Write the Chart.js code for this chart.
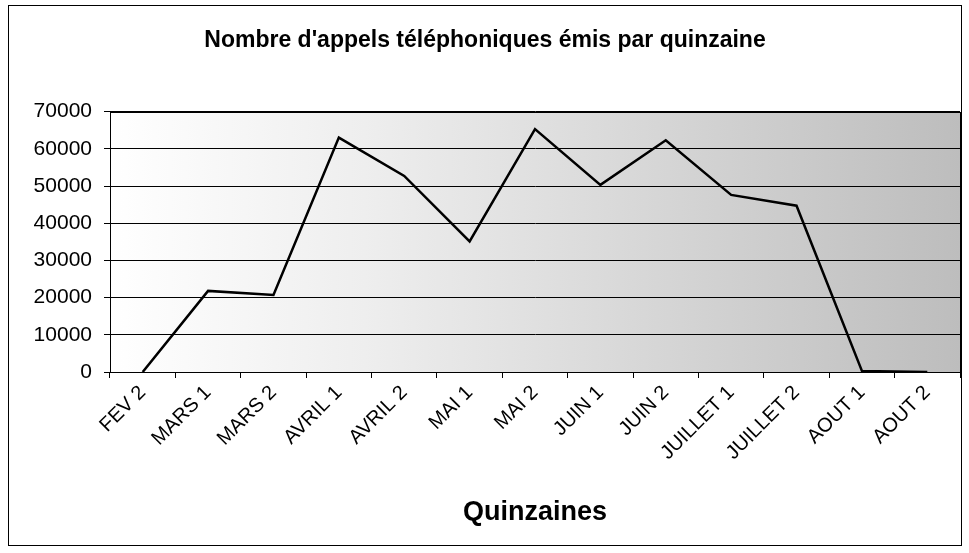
<!DOCTYPE html>
<html>
<head>
<meta charset="utf-8">
<script src="https://cdn.jsdelivr.net/npm/chart.js@4/dist/chart.umd.min.js"></script>
<style>
  html, body { margin: 0; padding: 0; background: #fff; }
  #wrap { width: 969px; height: 553px; }
</style>
</head>
<body>
<div id="wrap"><canvas id="appels" width="969" height="553"></canvas></div>
<script>
// Appels émis par quinzaine
var quinzaines = ['FEV 2', 'MARS 1', 'MARS 2', 'AVRIL 1', 'AVRIL 2', 'MAI 1', 'MAI 2',
  'JUIN 1', 'JUIN 2', 'JUILLET 1', 'JUILLET 2', 'AOUT 1', 'AOUT 2'];
var appels = [0, 21800, 20700, 63000, 52700, 35100, 65300, 50300, 62300, 47600, 44700, 300, 0];
var yTicks = [0, 10000, 20000, 30000, 40000, 50000, 60000, 70000];

var FONT = "'Liberation Sans', Arial, sans-serif";

// fond du cadre + dégradé de la zone de tracé
var decor = {
  id: 'decor',
  beforeDraw: function (chart) {
    var c = chart.ctx, a = chart.chartArea;
    c.save();
    c.fillStyle = '#fff';
    c.fillRect(0, 0, chart.width, chart.height);
    var g = c.createLinearGradient(a.left, 0, a.right, 0);
    g.addColorStop(0, '#ffffff');
    g.addColorStop(0.3, '#eeeeee');
    g.addColorStop(1, '#bdbdbd');
    c.fillStyle = g;
    c.fillRect(a.left, a.top, a.right - a.left, a.bottom - a.top);
    c.strokeStyle = '#000';
    c.lineWidth = 1;
    c.strokeRect(8.5, 5.5, 953, 540);
    c.restore();
  },
  beforeDatasetsDraw: function (chart) {
    var c = chart.ctx, a = chart.chartArea;
    c.save();
    c.strokeStyle = '#000';
    c.lineWidth = 1;
    c.strokeRect(Math.round(a.left) + 0.5, Math.round(a.top) + 0.5,
      Math.round(a.right - a.left), Math.round(a.bottom - a.top));
    c.restore();
  }
};

new Chart(document.getElementById('appels').getContext('2d'), {
  type: 'line',
  data: {
    labels: quinzaines,
    datasets: [{
      label: 'Appels',
      data: appels,
      borderColor: '#000',
      borderWidth: 2.5,
      pointRadius: 0,
      tension: 0,
      fill: false
    }]
  },
  options: {
    responsive: false,
    animation: false,
    layout: { padding: { left: 10, right: 9, top: 10, bottom: 10 } },
    plugins: {
      legend: { display: false },
      tooltip: { enabled: false },
      title: {
        display: true,
        text: "Nombre d'appels téléphoniques émis par quinzaine",
        color: '#000',
        font: { family: FONT, size: 23, weight: 'bold' },
        padding: { top: 17, bottom: 57 }
      }
    },
    scales: {
      x: {
        offset: true,
        grid: { offset: true, drawOnChartArea: false, drawTicks: true, tickLength: 6, color: '#000' },
        border: { color: '#000', width: 1 },
        ticks: {
          color: '#000',
          font: { family: FONT, size: 20 },
          minRotation: 45,
          maxRotation: 45,
          padding: 3,
          autoSkip: false
        },
        title: {
          display: true,
          text: 'Quinzaines',
          color: '#000',
          font: { family: FONT, size: 27, weight: 'bold' },
          padding: { top: 0, bottom: 14 }
        },
        afterFit: function (s) { s.height = 553 - 10 - 372; }
      },
      y: {
        min: 0,
        max: 70000,
        afterBuildTicks: function (s) { s.ticks = yTicks.map(function (v) { return { value: v }; }); },
        grid: { color: '#000', lineWidth: 1, tickLength: 6 },
        border: { color: '#000', width: 1 },
        ticks: {
          color: '#000',
          font: { family: FONT, size: 21 },
          padding: 12,
          callback: function (v) { return String(v); }
        },
        afterFit: function (s) { s.width = 110 - 10; }
      }
    }
  },
  plugins: [decor]
});
</script>
</body>
</html>
